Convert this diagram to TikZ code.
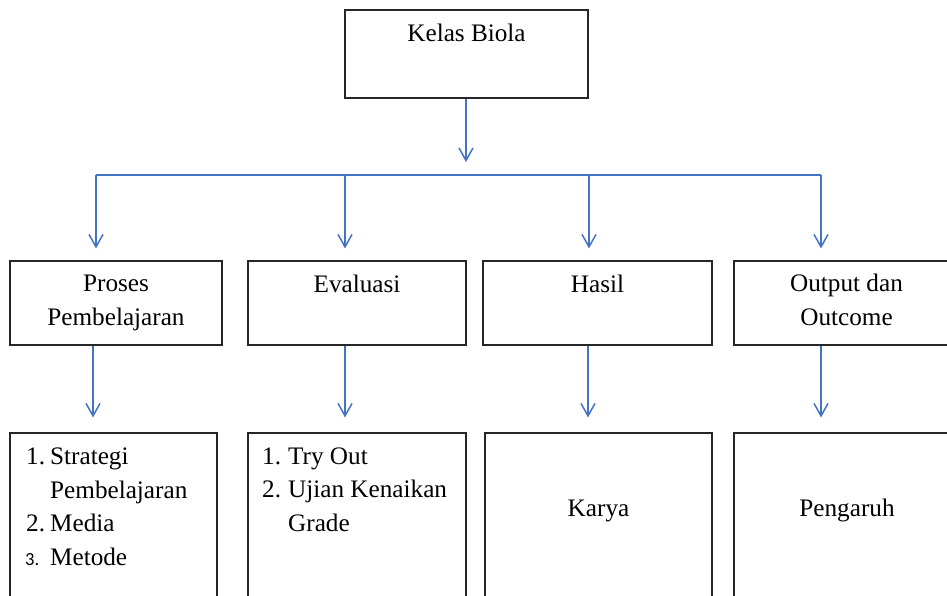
\documentclass[tikz,border=0pt]{standalone}
\usepackage{fontspec}
\setmainfont{Liberation Serif}
\newfontfamily\numfont{Carlito}
\usetikzlibrary{arrows.meta}
\definecolor{arrblue}{RGB}{68,114,196}
\begin{document}
\begin{tikzpicture}[x=1pt,y=-1pt,
  box/.style={draw=black!85,line width=1.1pt,rectangle,inner sep=0pt,minimum height=#1},
  box/.default=84pt,
  txt/.style={font=\fontsize{25.2}{30}\selectfont,inner sep=0pt,anchor=base},
  ltxt/.style={txt,anchor=base west},
  conn/.style={draw=arrblue,line width=1.5pt},
  arr/.style={conn,-{Straight Barb[length=12.5pt,width=14pt,line width=1.5pt]}}
]
\useasboundingbox (0,0) rectangle (947,596);
\clip (0,0) rectangle (947,596);
% top box
\node[box=88pt,minimum width=243pt] (top) at (466.5,54) {};
\node[txt] (ttop) at (466.5,42) {Kelas Biola};
% middle boxes
\node[box,minimum width=212pt] (p1) at (116,303) {};
\node[box,minimum width=218pt] (p2) at (357,303) {};
\node[box,minimum width=229pt] (p3) at (597.5,303) {};
\node[box,minimum width=225pt] (p4) at (846.5,303) {};
\node[txt] (tp1a) at (116,291) {Proses};
\node[txt] (tp1b) at (116,325) {Pembelajaran};
\node[txt] (tp2) at (357,292) {Evaluasi};
\node[txt] (tp3) at (597.5,292) {Hasil};
\node[txt] (tp4a) at (846.5,291) {Output dan};
\node[txt] (tp4b) at (846.5,325) {Outcome};
% bottom boxes (run past the lower edge)
\node[box=220pt,minimum width=207pt] (b1) at (113.5,543) {};
\node[box=220pt,minimum width=218pt] (b2) at (357,543) {};
\node[box=220pt,minimum width=227pt] (b3) at (598.5,543) {};
\node[box=220pt,minimum width=226pt] (b4) at (847,543) {};
% list 1
\node[ltxt] (l1n1) at (26,464) {1.};
\node[ltxt] (l1t1) at (50,464) {Strategi};
\node[ltxt] (l1t1b) at (50,498) {Pembelajaran};
\node[ltxt] (l1n2) at (26,531) {2.};
\node[ltxt] (l1t2) at (50,531) {Media};
\node[ltxt,font=\numfont\fontsize{18.5}{22}\selectfont] (l1n3) at (25,565) {3.};
\node[ltxt] (l1t3) at (50,565) {Metode};
% list 2
\node[ltxt] (l2n1) at (262,464) {1.};
\node[ltxt] (l2t1) at (288,464) {Try Out};
\node[ltxt] (l2n2) at (262,497) {2.};
\node[ltxt] (l2t2) at (288,497) {Ujian Kenaikan};
\node[ltxt] (l2t2b) at (288,531) {Grade};
\node[txt] (tb3) at (598.5,516) {Karya};
\node[txt] (tb4) at (847,516) {Pengaruh};
% connector geometry
\coordinate (t0) at (466,98);
\coordinate (bus) at (466,175);
\coordinate (c1) at (96,175);
\coordinate (c2) at (345,175);
\coordinate (c3) at (589,175);
\coordinate (c4) at (821,175);
\coordinate (d1) at (93,345);
\coordinate (d2) at (345,345);
\coordinate (d3) at (588,345);
\coordinate (d4) at (821,345);
% connectors
\draw[arr,shorten >=13pt] (top.south -| t0) -- (bus);
\draw[conn] (c1) -- (c4);
\draw[arr,shorten >=12pt] (c1) -- (p1.north -| c1);
\draw[arr,shorten >=12pt] (c2) -- (p2.north -| c2);
\draw[arr,shorten >=12pt] (c3) -- (p3.north -| c3);
\draw[arr,shorten >=12pt] (c4) -- (p4.north -| c4);
\draw[arr,shorten >=15pt] (p1.south -| d1) -- (b1.north -| d1);
\draw[arr,shorten >=15pt] (p2.south -| d2) -- (b2.north -| d2);
\draw[arr,shorten >=15pt] (p3.south -| d3) -- (b3.north -| d3);
\draw[arr,shorten >=15pt] (p4.south -| d4) -- (b4.north -| d4);
\end{tikzpicture}
\end{document}
